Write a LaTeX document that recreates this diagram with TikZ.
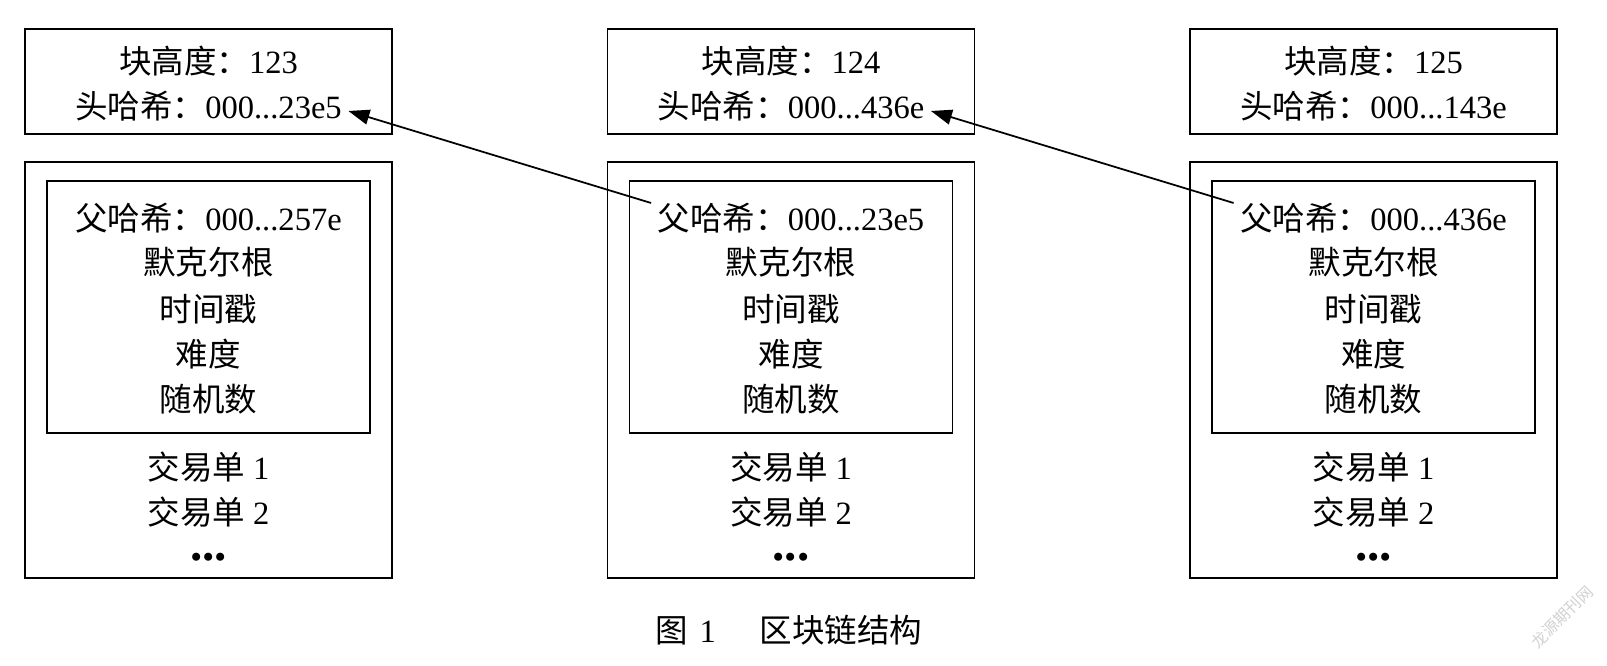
\documentclass[tikz,border=0pt]{standalone}
\usepackage{fontspec}
\setmainfont{Liberation Serif}
\newfontfamily\cjk{Noto Sans CJK SC}
\usetikzlibrary{arrows.meta}
\newcommand{\zh}[1]{{\cjk #1}}

\begin{document}
\begin{tikzpicture}[line width=1pt, >={Triangle[length=0.42cm,width=0.3cm]},
box node/.style={draw,rectangle,minimum width=7.34cm,inner sep=0pt},
text node/.style={font=\fontsize{18.5}{22}\selectfont}]
\useasboundingbox (0,0) rectangle (32.14,13.32);
\begin{scope}[every node/.style={box node}]
\node[minimum height=2.1cm] (hd1) at (4.17,11.69) {};%header 1
\node[minimum height=8.32cm] (bd1) at (4.17,5.92) {};%body 1
\node[minimum width=6.46cm,minimum height=5.04cm] (in1) at (4.17,7.18) {};
\node[minimum height=2.1cm] (hd2) at (15.82,11.69) {};%header 2
\node[minimum height=8.32cm] (bd2) at (15.82,5.92) {};%body 2
\node[minimum width=6.46cm,minimum height=5.04cm] (in2) at (15.82,7.18) {};
\node[minimum height=2.1cm] (hd3) at (27.47,11.69) {};%header 3
\node[minimum height=8.32cm] (bd3) at (27.47,5.92) {};%body 3
\node[minimum width=6.46cm,minimum height=5.04cm] (in3) at (27.47,7.18) {};
\end{scope}
\begin{scope}[every node/.style={text node}]
\node (k1) at (4.17,12.1) {\zh{块高度：}123};
\node (h1) at (4.17,11.2) {\zh{头哈希：}000...23e5};
\node (p1) at (4.17,8.96) {\zh{父哈希：}000...257e};
\node (m1) at (4.17,8.08) {\zh{默克尔根}};
\node (t1) at (4.17,7.14) {\zh{时间戳}};
\node (d1) at (4.17,6.24) {\zh{难度}};
\node (r1) at (4.17,5.34) {\zh{随机数}};
\node (a1) at (4.17,3.98) {\zh{交易单} 1};
\node (b1) at (4.17,3.08) {\zh{交易单} 2};
\node[font=\fontsize{28}{28}\selectfont\bfseries] (e1) at (4.17,2.18) {...};
%block 2
\node (k2) at (15.82,12.1) {\zh{块高度：}124};
\node (h2) at (15.82,11.2) {\zh{头哈希：}000...436e};
\node (p2) at (15.82,8.96) {\zh{父哈希：}000...23e5};
\node (m2) at (15.82,8.08) {\zh{默克尔根}};
\node (t2) at (15.82,7.14) {\zh{时间戳}};
\node (d2) at (15.82,6.24) {\zh{难度}};
\node (r2) at (15.82,5.34) {\zh{随机数}};
\node (a2) at (15.82,3.98) {\zh{交易单} 1};
\node (b2) at (15.82,3.08) {\zh{交易单} 2};
\node[font=\fontsize{28}{28}\selectfont\bfseries] (e2) at (15.82,2.18) {...};
%block 3
\node (k3) at (27.47,12.1) {\zh{块高度：}125};
\node (h3) at (27.47,11.2) {\zh{头哈希：}000...143e};
\node (p3) at (27.47,8.96) {\zh{父哈希：}000...436e};
\node (m3) at (27.47,8.08) {\zh{默克尔根}};
\node (t3) at (27.47,7.14) {\zh{时间戳}};
\node (d3) at (27.47,6.24) {\zh{难度}};
\node (r3) at (27.47,5.34) {\zh{随机数}};
\node (a3) at (27.47,3.98) {\zh{交易单} 1};
\node (b3) at (27.47,3.08) {\zh{交易单} 2};
\node[font=\fontsize{28}{28}\selectfont\bfseries] (e3) at (27.47,2.18) {...};
\node (cap) at (15.78,0.72) {\zh{图}\hspace{0.35em}1\hspace{1.35em}\zh{区块链结构}};
\end{scope}
\node[rotate=45,text=black!18,font=\cjk\fontsize{9}{9}\selectfont] (wm) at (31.24,0.98) {龙源期刊网};
\begin{scope}
\draw[->] ([yshift=0.3cm]p2.west) -- ([yshift=-0.1cm]h1.east);
\draw[->] ([yshift=0.3cm]p3.west) -- ([yshift=-0.1cm]h2.east);
\end{scope}
\end{tikzpicture}
\end{document}
